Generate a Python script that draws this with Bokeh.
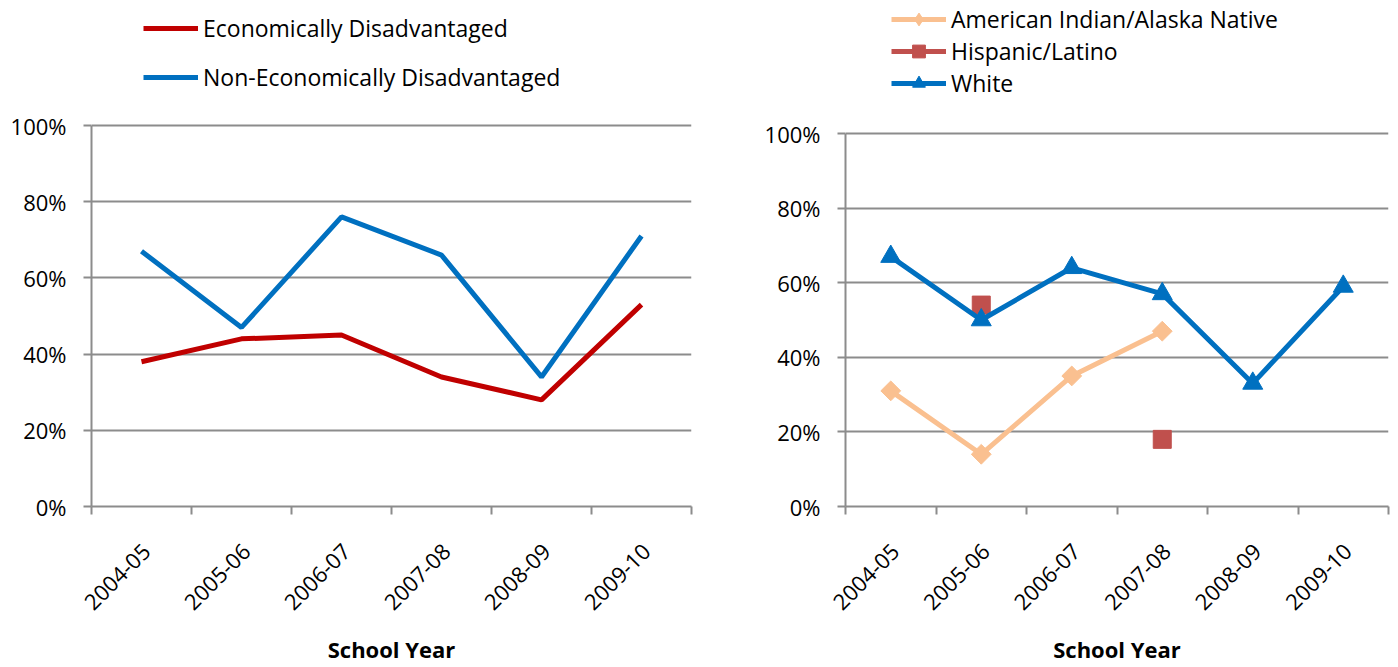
import math
from bokeh.plotting import figure
from bokeh.models import Range1d, FixedTicker, NumeralTickFormatter, Legend, LegendItem
from bokeh.layouts import row
from bokeh.embed import file_html
from bokeh.resources import INLINE

nan = float("nan")

years = ["2004-05", "2005-06", "2006-07", "2007-08", "2008-09", "2009-10"]
econ_dis = [0.38, 0.44, 0.45, 0.34, 0.28, 0.53]
non_econ_dis = [0.67, 0.47, 0.76, 0.66, 0.34, 0.71]
am_indian = [0.31, 0.14, 0.35, 0.47, nan, nan]
hispanic = [nan, 0.54, nan, 0.18, nan, nan]
white = [0.67, 0.50, 0.64, 0.57, 0.33, 0.59]
y_ticks = [0.0, 0.2, 0.4, 0.6, 0.8, 1.0]

x_pos = [i + 0.5 for i in range(len(years))]
bounds = list(range(len(years) + 1))
LABEL_SHIFT = 0.05
label_pos = [x + LABEL_SHIFT for x in x_pos]
overrides = {x: y for x, y in zip(label_pos, years)}

GRID = "#8c8c8c"
FONT = "Open Sans"
FS = "22px"
LEG_FS = "23px"
H = 667
FRAME_BOTTOM = 506


def make_fig(width, border_left, border_right, top100_px):
    # frame spans from the top of the canvas down to FRAME_BOTTOM; the space
    # above 100% holds the legend
    y_end = FRAME_BOTTOM / (FRAME_BOTTOM - top100_px)
    p = figure(width=width, height=H, x_range=Range1d(0, 6), y_range=Range1d(0, y_end),
               output_backend="svg", toolbar_location=None,
               min_border_left=border_left, min_border_right=border_right,
               min_border_top=0, min_border_bottom=H - FRAME_BOTTOM)
    p.outline_line_color = None
    p.xgrid.visible = False
    p.ygrid.ticker = FixedTicker(ticks=y_ticks)
    p.ygrid.grid_line_color = GRID
    p.ygrid.grid_line_width = 2

    ya = p.yaxis[0]
    ya.ticker = FixedTicker(ticks=y_ticks)
    ya.bounds = (0, 1)
    ya.formatter = NumeralTickFormatter(format="0%")
    ya.axis_line_color = GRID
    ya.axis_line_width = 2
    ya.major_tick_line_color = GRID
    ya.major_tick_line_width = 2
    ya.major_tick_out = 8
    ya.major_tick_in = 0
    ya.minor_tick_line_color = None
    ya.major_label_standoff = 17
    ya.major_label_text_font = FONT
    ya.major_label_text_font_size = FS
    ya.major_label_text_color = "black"

    xa = p.xaxis[0]
    xa.ticker = FixedTicker(ticks=label_pos, minor_ticks=bounds)
    xa.major_label_overrides = overrides
    xa.axis_line_color = GRID
    xa.axis_line_width = 2
    xa.major_tick_line_color = None
    xa.major_tick_out = 0
    xa.major_tick_in = 0
    xa.minor_tick_line_color = GRID
    xa.minor_tick_line_width = 2
    xa.minor_tick_out = 8
    xa.minor_tick_in = 0
    xa.major_label_orientation = math.pi / 4
    xa.major_label_standoff = 33
    xa.major_label_text_font = FONT
    xa.major_label_text_font_size = FS
    xa.major_label_text_color = "black"
    xa.axis_label = "School Year"
    xa.axis_label_text_font = FONT
    xa.axis_label_text_font_style = "bold"
    xa.axis_label_text_font_size = FS
    xa.axis_label_text_color = "black"
    xa.axis_label_standoff = 14
    return p


def make_legend(items, loc, spacing):
    return Legend(items=items, location=loc, orientation="vertical",
                  border_line_color=None, background_fill_alpha=0,
                  padding=0, margin=0, spacing=spacing,
                  glyph_width=55, glyph_height=32, label_height=32,
                  label_standoff=5, label_text_font=FONT, label_text_font_size=LEG_FS,
                  label_text_color="black")


# Left chart
p1 = make_fig(700, 91, 9, 125)
r_econ = p1.line(x_pos, econ_dis, line_color="#C00000", line_width=5)
r_non = p1.line(x_pos, non_econ_dis, line_color="#0070C0", line_width=5)
p1.add_layout(make_legend([LegendItem(label="Economically Disadvantaged", renderers=[r_econ]),
                           LegendItem(label="Non-Economically Disadvantaged", renderers=[r_non])],
                          (52, 413), 17), "center")

# Right chart
p2 = make_fig(696, 145, 8, 133)
ai_line = p2.line(x_pos, am_indian, line_color="#FAC090", line_width=5)
ai_pts = p2.scatter(x_pos, am_indian, marker="square", angle=math.pi / 4, size=14,
                    fill_color="#FAC090", line_color="#FAC090")
# legend swatch for the diamond marker (legend glyphs ignore marker angle)
ai_key = p2.scatter(x_pos, [nan] * len(x_pos), marker="diamond", size=20,
                    fill_color="#FAC090", line_color="#FAC090")
hi_line = p2.line(x_pos, hispanic, line_color="#C0504D", line_width=5)
hi_pts = p2.scatter(x_pos, hispanic, marker="square", size=18,
                    fill_color="#C0504D", line_color="#C0504D")
wh_line = p2.line(x_pos, white, line_color="#0070C0", line_width=5)
wh_pts = p2.scatter(x_pos, white, marker="triangle", size=20,
                    fill_color="#0070C0", line_color="#0070C0")
p2.add_layout(make_legend([LegendItem(label="American Indian/Alaska Native", renderers=[ai_line, ai_key]),
                           LegendItem(label="Hispanic/Latino", renderers=[hi_line, hi_pts]),
                           LegendItem(label="White", renderers=[wh_line, wh_pts])],
                          (46, 407), 0), "center")

layout = row(p1, p2)
open("out.html", "w").write(file_html(layout, INLINE))
